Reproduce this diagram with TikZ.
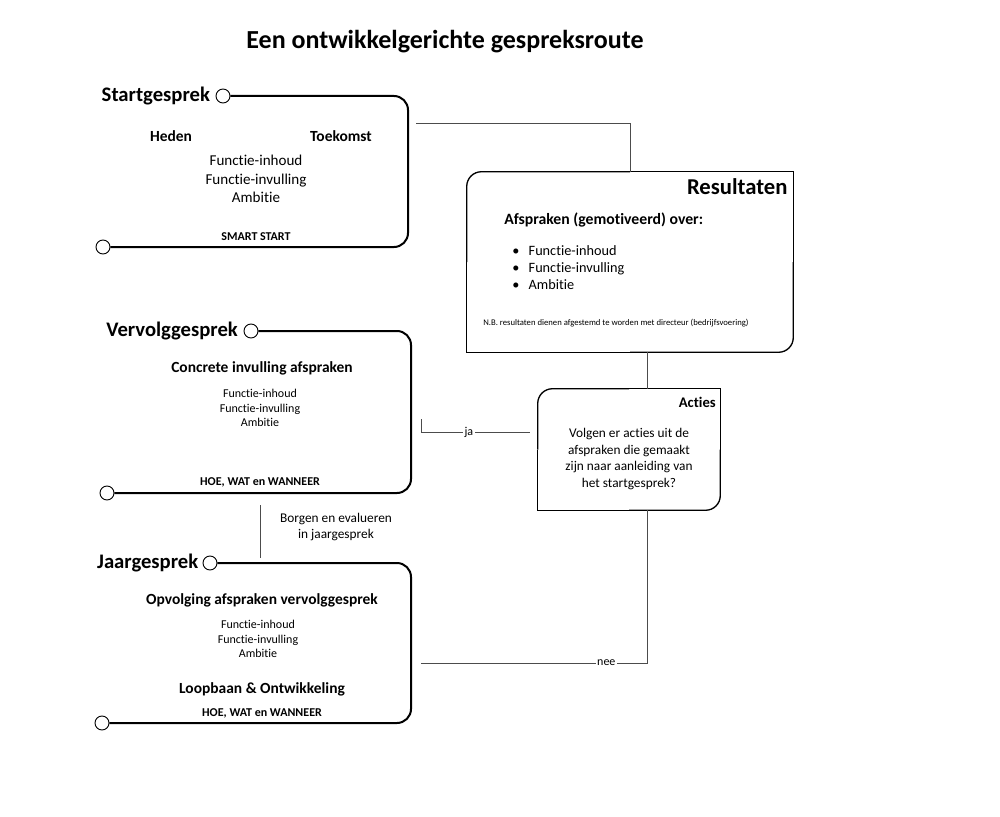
\documentclass[tikz,border=0pt]{standalone}
\usepackage{fontspec}
\setmainfont{Carlito}[Ligatures={NoCommon,TeX}]
\usepackage{tikz}
\usetikzlibrary{positioning}
\tikzstyle{lane} = [line width=1.5pt, rounded corners=10.5pt]
\tikzstyle{halt} = [circle, draw, line width=0.7pt, fill=white, minimum size=10.5pt, inner sep=0pt]
\tikzstyle{lanetitle} = [inner sep=1pt, font=\fontsize{15.5}{18}\selectfont\bfseries]
\tikzstyle{subhead} = [inner sep=0pt, font=\fontsize{11.6}{13}\selectfont\bfseries]
\tikzstyle{items} = [align=center, inner sep=0pt, font=\fontsize{11.3}{13.9}\selectfont]
\tikzstyle{smallitems} = [align=center, inner sep=0pt, font=\fontsize{9}{10.9}\selectfont]
\tikzstyle{footer} = [inner sep=0pt, font=\fontsize{9}{10}\selectfont\bfseries]
\tikzstyle{card} = [minimum width=244.5pt, minimum height=135pt, inner sep=0pt]
\tikzstyle{link} = [line width=0.7pt, draw=black!70]
\tikzstyle{linklabel} = [fill=white, inner sep=1pt, font=\fontsize{9}{10}\selectfont]
\newcommand{\halfround}[1]{%
  \draw [line width=1pt, rounded corners=11pt] (#1.west) -- (#1.north west) -- (#1.north);
  \draw [line width=1pt] (#1.north) -- (#1.north east) -- (#1.east);
  \draw [line width=1pt, rounded corners=11pt] (#1.east) -- (#1.south east) -- (#1.south);
  \draw [line width=1pt] (#1.south) -- (#1.south west) -- (#1.west);}

\begin{document}
\begin{tikzpicture}[x=0.75pt, y=-0.75pt]
        \useasboundingbox (0,0) rectangle (1000,817);
        \node (title) at (445,42) [font=\fontsize{19.5}{22}\selectfont\bfseries] {Een ontwikkelgerichte gespreksroute};

        % startgesprek
        \node (start) [halt] at (223,96) {};
        \node [lanetitle, left=3pt of start] {Startgesprek};
        \node (startend) [halt] at (103,247) {};
        \draw [lane] (start.east) -- (408,96) -- (408,247) -- (startend.east);
        \node (heden) [subhead] at (171,136) {Heden};
        \node (toekomst) [subhead] at (341,136) {Toekomst};
        \node (startitems) [items] at (256,179) {Functie-inhoud\\Functie-invulling\\Ambitie};
        \node (smart) [footer] at (256,237) {SMART START};

        % vervolggesprek
        \node (vervolg) [halt] at (251,331) {};
        \node [lanetitle, left=3pt of vervolg] {Vervolggesprek};
        \node (vervolgend) [halt] at (107,493) {};
        \draw [lane] (vervolg.east) -- (411,331) -- (411,493) -- (vervolgend.east);
        \node (concreet) [subhead] at (262,368) {Concrete invulling afspraken};
        \node (vervolgitems) [smallitems] at (260,408) {Functie-inhoud\\Functie-invulling\\Ambitie};
        \node (hoe1) [footer] at (260,482) {HOE, WAT en WANNEER};

        % jaargesprek
        \node (jaar) [halt] at (210,563) {};
        \node [lanetitle, left=2pt of jaar] {Jaargesprek};
        \node (jaarend) [halt] at (102,723) {};
        \draw [lane] (jaar.east) -- (411,563) -- (411,723) -- (jaarend.east);
        \node (opvolging) [subhead] at (262,600) {Opvolging afspraken vervolggesprek};
        \node (jaaritems) [smallitems] at (258,639) {Functie-inhoud\\Functie-invulling\\Ambitie};
        \node (loopbaan) [subhead] at (262,689) {Loopbaan \& Ontwikkeling};
        \node (hoe2) [footer] at (262,713) {HOE, WAT en WANNEER};

        % resultaten
        \node (res) [card] at (630,262) {};
        \halfround{res}
        \node (restitle) [lanetitle, anchor=east, font=\fontsize{17}{20}\selectfont\bfseries] at (789,187) {Resultaten};
        \node (afspraken) [subhead, anchor=west, font=\fontsize{11.8}{14}\selectfont\bfseries] at (504,220) {Afspraken (gemotiveerd) over:};
        \node (bullets) [anchor=west, inner sep=0pt, font=\fontsize{10.7}{12.75}\selectfont] at (512,269)
            {\begin{tabular}{@{}l@{\hspace{7pt}}l@{}}\textbullet & Functie-inhoud\\ \textbullet & Functie-invulling\\ \textbullet & Ambitie\end{tabular}};
        \node (nb) [anchor=west, inner sep=0pt, font=\fontsize{6.5}{7}\selectfont] at (483,323) {N.B. resultaten dienen afgestemd te worden met directeur (bedrijfsvoering)};

        % acties
        \node (acties) [card, minimum width=136.5pt, minimum height=90.75pt] at (629,449.5) {};
        \halfround{acties}
        \node (actiestitle) [anchor=east, inner sep=0pt, font=\fontsize{11}{12}\selectfont\bfseries] at (716,402) {Acties};
        \node (vraag) [align=center, inner sep=0pt, font=\fontsize{10}{12.5}\selectfont] at (629,459)
            {Volgen er acties uit de\\afspraken die gemaakt\\zijn naar aanleiding van\\het startgesprek?};

        % verbindingen
        \coordinate (startlink) at (416,123);
        \coordinate (kx) at (647,0);
        \coordinate (jay) at (0,432);
        \coordinate (ja) at (421,419);
        \coordinate (nee) at (421,663);
        \coordinate (borgtop) at (260,505);
        \coordinate (borgbot) at (260,558);
        \draw [link] (startlink) -| (res.north);
        \draw [link] (res.south -| kx) -- (acties.north -| kx);
        \draw [link, shorten <=6pt] (acties.west |- jay) -| (ja) node [linklabel, pos=0.295] {ja};
        \draw [link] (acties.south -| kx) |- (nee) node [linklabel, pos=0.59] {nee};
        \draw [link] (borgtop) -- (borgbot);
        \node (borgen) [align=center, inner sep=0pt, font=\fontsize{10}{12}\selectfont] at (336,527) {Borgen en evalueren\\in jaargesprek};
    \end{tikzpicture}
\end{document}
